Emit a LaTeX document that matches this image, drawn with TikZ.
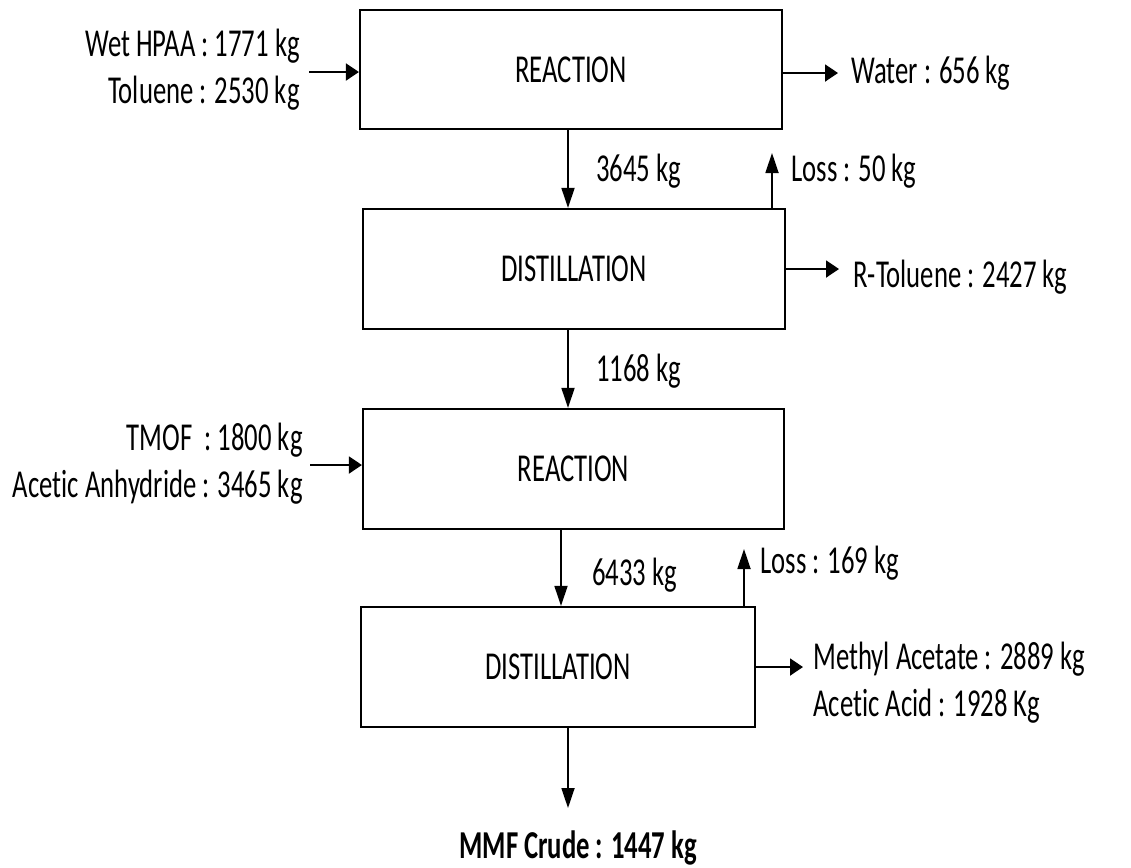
\documentclass[tikz,border=0pt]{standalone}
\usepackage{fontspec}
\setmainfont{Carlito}[FakeStretch=0.675,Ligatures=NoCommon]
\usepackage{tikz}
\usetikzlibrary{arrows.meta}

\begin{document}
\begin{tikzpicture}[x=0.02cm,y=-0.02cm,
  font=\fontsize{22.5pt}{26.7pt}\selectfont,
  unit/.style={draw,line width=1.3pt,minimum height=2.4cm,inner sep=0pt},
  lbl/.style={inner sep=0pt},
  harr/.style={-{Triangle[length=0.26cm,width=0.34cm]},line width=1.1pt},
  varr/.style={-{Triangle[length=0.4cm,width=0.26cm]},line width=1pt}]
  \useasboundingbox (0,0) rectangle (1131,867);

  % process units
  \node[unit,minimum width=8.44cm,minimum height=2.38cm] (r1) at (571,69.5) {REACTION};
  \node[unit,minimum width=8.44cm] (d1) at (574,269) {DISTILLATION};
  \node[unit,minimum width=8.42cm] (r2) at (573.5,469) {REACTION};
  \node[unit,minimum width=7.88cm] (d2) at (558,667) {DISTILLATION};

  % stream labels
  \node[lbl,anchor=east,align=right] (in1) at (300,70) {Wet HPAA : 1771 kg\\Toluene : 2530 kg};
  \node[lbl,anchor=east,align=right] (in2) at (303,464) {TMOF\ \ : 1800 kg\\Acetic Anhydride : 3465 kg};
  \node[lbl,anchor=base west] (wat) at (851,83) {Water : 656 kg};
  \node[lbl,anchor=base west] (m1) at (596,181) {3645 kg};
  \node[lbl,anchor=base west] (ls1) at (791,181) {Loss : 50 kg};
  \node[lbl,anchor=base west] (rtol) at (853,287) {R-Toluene : 2427 kg};
  \node[lbl,anchor=base west] (m2) at (596,381) {1168 kg};
  \node[lbl,anchor=base west] (m3) at (592,585) {6433 kg};
  \node[lbl,anchor=base west] (ls2) at (760,573) {Loss : 169 kg};
  \node[lbl,anchor=west,align=left] (out2) at (813,683) {Methyl Acetate : 2889 kg\\Acetic Acid : 1928 Kg};
  \node[lbl,anchor=base west] (mmf) at (459,858) {\bfseries MMF Crude : 1447 kg};

  % free ends of the streams
  \coordinate (inA) at (309,72);
  \coordinate (inB) at (310,465);
  \coordinate (outA) at (838,73);
  \coordinate (outB) at (839,269);
  \coordinate (outC) at (803,667);
  \coordinate (outD) at (568,808);
  \coordinate (lossA) at (772,153);
  \coordinate (lossB) at (744,549);
  \coordinate (colA) at (568,0);
  \coordinate (colB) at (561,0);

  % streams
  \draw[harr] (inA) -- (inA -| r1.west);
  \draw[harr] (outA -| r1.east) -- (outA);
  \draw[varr] (r1.south -| colA) -- (d1.north -| colA);
  \draw[varr] (d1.north -| lossA) -- (lossA);
  \draw[harr] (outB -| d1.east) -- (outB);
  \draw[varr] (d1.south -| colA) -- (r2.north -| colA);
  \draw[harr] (inB) -- (inB -| r2.west);
  \draw[varr] (r2.south -| colB) -- (d2.north -| colB);
  \draw[varr] (d2.north -| lossB) -- (lossB);
  \draw[harr] (outC -| d2.east) -- (outC);
  \draw[varr] (d2.south -| outD) -- (outD);
\end{tikzpicture}
\end{document}
